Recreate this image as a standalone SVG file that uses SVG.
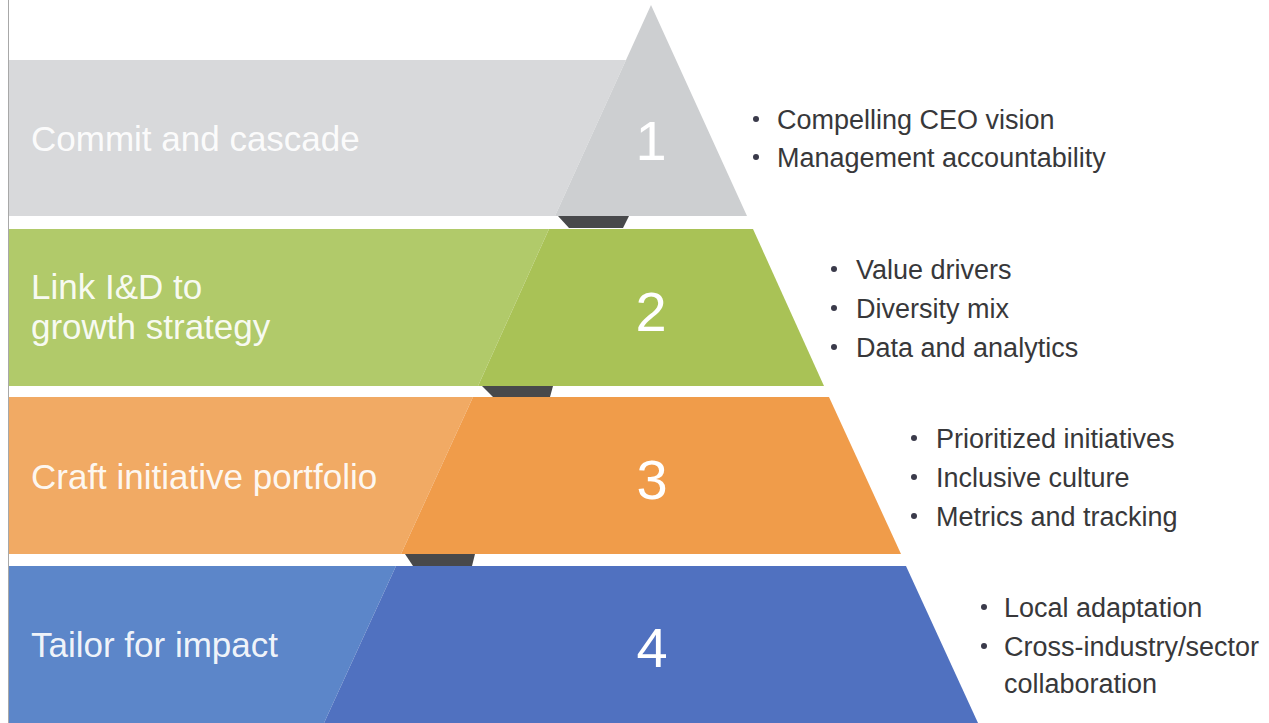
<svg xmlns="http://www.w3.org/2000/svg" width="1269" height="723" viewBox="0 0 1269 723">
<style>
.lbl{font-family:"Liberation Sans",Arial,sans-serif;font-size:35px;fill:#ffffff;fill-opacity:0.93}
.num{font-family:"Liberation Sans",Arial,sans-serif;font-size:56px;fill:#ffffff;text-anchor:middle}
.bt{font-family:"Liberation Sans",Arial,sans-serif;font-size:27px;fill:#38383a}
.dot{fill:#3a3a4a}
.notch{fill:#48494b}
</style>
<rect x="0" y="0" width="1269" height="723" fill="#ffffff"/>
<line x1="8.5" y1="0" x2="8.5" y2="723" stroke="#a8a8a8" stroke-width="1"/>
<g id="tier1">
<polygon points="9,60 626,60 555,216 9,216" fill="#d8d9db"/>
<polygon points="651,5 747,216 555,216 626,60" fill="#cdcfd1"/>
<text class="lbl" x="31" y="151">Commit and cascade</text>
<text class="num" x="651" y="160">1</text>
</g>
<g id="tier2">
<polygon points="9,229 549,229 478,386 9,386" fill="#b1ca6a"/>
<polygon points="549,229 753,229 824,386 478,386" fill="#a9c256"/>
<text class="lbl" x="31" y="299">Link I&amp;D to</text>
<text class="lbl" x="31" y="339">growth strategy</text>
<text class="num" x="651" y="331">2</text>
</g>
<g id="tier3">
<polygon points="9,397 473,397 401,554 9,554" fill="#f1aa64"/>
<polygon points="473,397 829,397 901,554 401,554" fill="#f09c4a"/>
<text class="lbl" x="31" y="489">Craft initiative portfolio</text>
<text class="num" x="652" y="499">3</text>
</g>
<g id="tier4">
<polygon points="9,566 396,566 324,723 9,723" fill="#5c86c9"/>
<polygon points="396,566 906,566 978,723 324,723" fill="#5071c0"/>
<text class="lbl" x="31" y="657">Tailor for impact</text>
<text class="num" x="652" y="667">4</text>
</g>
<g id="notches">
<polygon class="notch" points="558,216 629,216 623,228 569,228"/>
<polygon class="notch" points="482,386 553,386 550,397 493,397"/>
<polygon class="notch" points="405,554 475,554 472,566 413,566"/>
</g>
<g id="bullets1">
<circle class="dot" cx="756" cy="119" r="3"/>
<text class="bt" x="777" y="129">Compelling CEO vision</text>
<circle class="dot" cx="756" cy="157" r="3"/>
<text class="bt" x="777" y="167">Management accountability</text>
</g>
<g id="bullets2">
<circle class="dot" cx="834" cy="269" r="3"/>
<text class="bt" x="856" y="279">Value drivers</text>
<circle class="dot" cx="834" cy="308" r="3"/>
<text class="bt" x="856" y="318">Diversity mix</text>
<circle class="dot" cx="834" cy="347" r="3"/>
<text class="bt" x="856" y="357">Data and analytics</text>
</g>
<g id="bullets3">
<circle class="dot" cx="914" cy="438" r="3"/>
<text class="bt" x="936" y="448">Prioritized initiatives</text>
<circle class="dot" cx="914" cy="477" r="3"/>
<text class="bt" x="936" y="487">Inclusive culture</text>
<circle class="dot" cx="914" cy="516" r="3"/>
<text class="bt" x="936" y="526">Metrics and tracking</text>
</g>
<g id="bullets4">
<circle class="dot" cx="984" cy="607" r="3"/>
<text class="bt" x="1004" y="617">Local adaptation</text>
<circle class="dot" cx="984" cy="646" r="3"/>
<text class="bt" x="1004" y="656">Cross-industry/sector</text>
<text class="bt" x="1004" y="693">collaboration</text>
</g>
</svg>
